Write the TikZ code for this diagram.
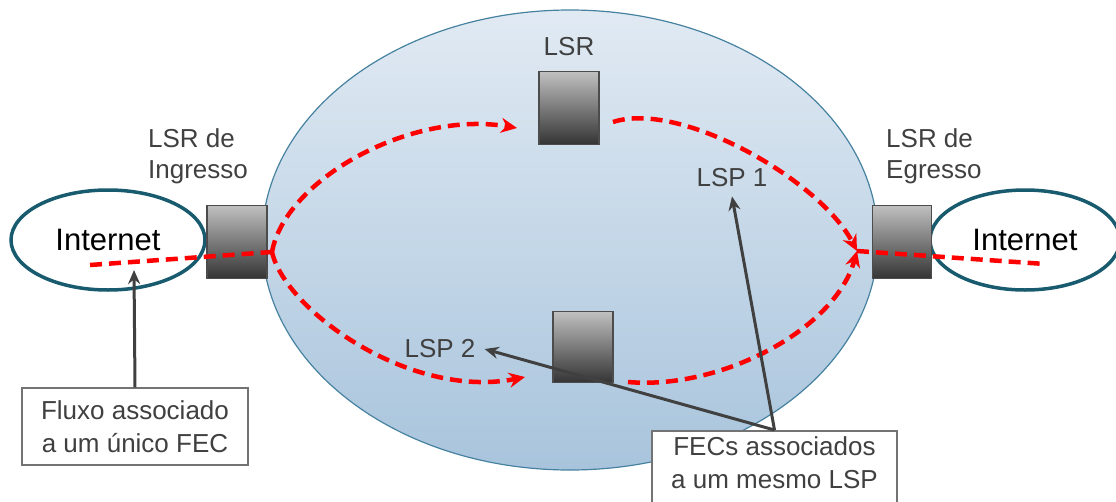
\documentclass[tikz,border=0pt]{standalone}
\usepackage{fontspec}
\setmainfont{Liberation Sans}
\usetikzlibrary{arrows.meta,shapes.geometric,positioning}

\definecolor{cloudtop}{RGB}{225,234,243}
\definecolor{cloudbot}{RGB}{168,196,220}
\definecolor{cloudline}{RGB}{70,130,160}
\definecolor{netline}{RGB}{24,90,110}
\definecolor{boxtop}{RGB}{192,192,192}
\definecolor{boxbot}{RGB}{52,52,52}
\definecolor{txtgray}{RGB}{64,64,64}
\definecolor{lspred}{RGB}{255,0,0}

\begin{document}
\begin{tikzpicture}[x=1pt,y=-1pt,>={Stealth[length=16pt,width=15pt]},
  cloud node/.style={ellipse,draw=cloudline,line width=1.2pt,top color=cloudtop,bottom color=cloudbot,inner sep=0pt,minimum width=616pt,minimum height=460pt},
  inet node/.style={ellipse,draw=netline,line width=3.5pt,fill=white,minimum height=100pt,font=\fontsize{31}{36}\selectfont},
  lsr node/.style={rectangle,draw=black!70,line width=1.2pt,top color=boxtop,bottom color=boxbot,minimum width=60pt,minimum height=73pt},
  lbl node/.style={text=txtgray,inner sep=0pt,font=\fontsize{26}{31}\selectfont},
  note node/.style={rectangle,draw=black!55,line width=1.5pt,fill=white,align=center,text=txtgray,font=\fontsize{26}{33}\selectfont},
  lsp path/.style={draw=lspred,line width=4.5pt,dash pattern=on 12pt off 7pt},
  fec arrow/.style={>={Stealth[length=14pt,width=12pt]},->,draw=txtgray,line width=3pt}]
  \useasboundingbox (0,0) rectangle (1116,501);

  % MPLS domain and the two outside networks
  \node[cloud node] (mpls) at (570,240) {};
  \node[inet node,minimum width=194pt] (inetL) at (108,240) {Internet};
  \node[inet node,minimum width=190pt] (inetR) at (1025,240) {Internet};

  % routers
  \node[lsr node] (ing) at (237,242) {};
  \node[lsr node] (lsrT) at (569,108) {};
  \node[lsr node,minimum height=71pt] (lsrB) at (583,347) {};
  \node[lsr node,minimum width=59pt] (egr) at (902,242) {};

  \node[lbl node,above=15pt of lsrT] (lsrTLbl) {LSR};
  \node[lbl node,align=left,anchor=north west] (ingLbl) at (148,128) {LSR de\\Ingresso};
  \node[lbl node,align=left,anchor=north west] (egrLbl) at (886,128) {LSR de\\Egresso};
  \node[lbl node,inner sep=9pt] (lsp1) at (732,178) {LSP 1};
  \node[lbl node,inner sep=9pt] (lsp2) at (440,349) {LSP 2};

  % path ends
  \coordinate (inP) at (272,252);
  \coordinate (egP) at (857,251);
  \coordinate (srcL) at (90,265);
  \coordinate (dstR) at (1045,264);
  \coordinate (topIn) at (517,128);
  \coordinate (topOut) at (613,122);
  \coordinate (botIn) at (525,377);
  \coordinate (botOut) at (628,382);
  \coordinate (fluxoTip) at (134,270);

  % LSPs
  \path[lsp path] (srcL) -- (inP) (egP) -- (dstR);
  \path[lsp path,->] (inP) .. controls (285,180) and (410,110) .. (topIn);
  \path[lsp path,->] (topOut) .. controls (680,100) and (820,180) .. (egP);
  \path[lsp path,->] (inP) .. controls (285,310) and (410,400) .. (botIn);
  \path[lsp path,->] (botOut) .. controls (720,390) and (835,330) .. (egP);

  % callouts
  \node[note node,minimum width=226pt,minimum height=77pt] (fluxo) at (135,426.5) {Fluxo associado\\a um único FEC};
  \node[note node,anchor=north,minimum width=245pt,inner ysep=6pt,text depth=30pt] (fecs) at (774.5,430) {FECs associados\\a um mesmo LSP};

  \draw[fec arrow] (fluxo.north) -- (fluxoTip);
  \draw[fec arrow] (fecs.north) -- (lsp1.south);
  \draw[fec arrow] (fecs.north) -- (lsp2.east);
\end{tikzpicture}
\end{document}
